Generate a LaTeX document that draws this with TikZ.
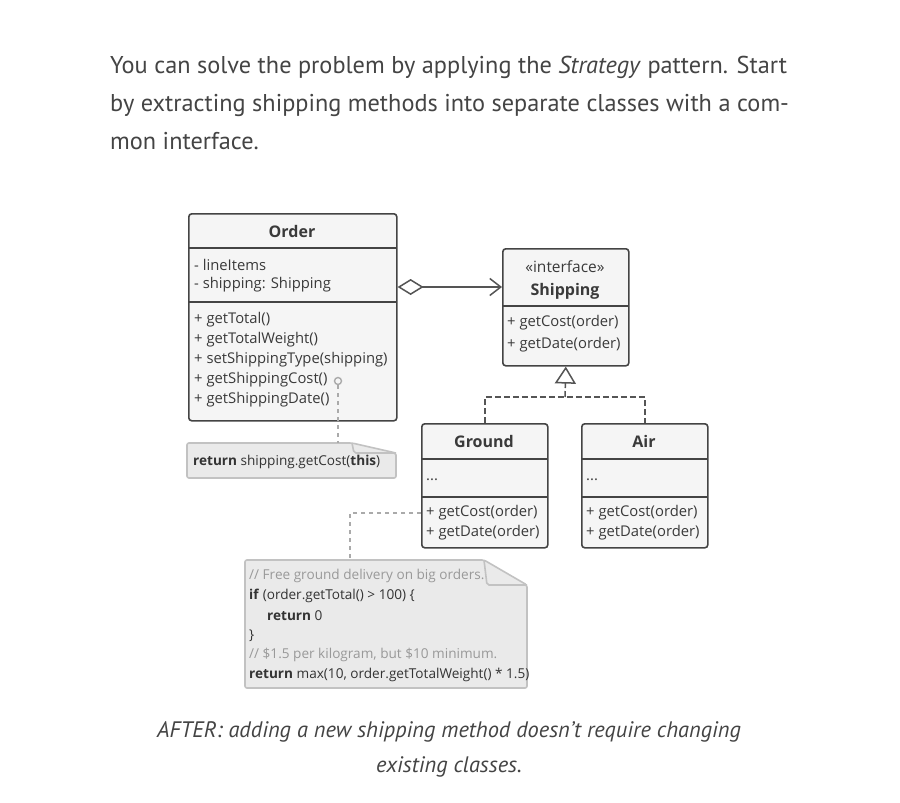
\documentclass[tikz,border=0pt]{standalone}
\usepackage{fontspec}
\setmainfont{PT Sans}
\newfontfamily\dfont{Open Sans}
\usetikzlibrary{arrows.meta}
\definecolor{ink}{HTML}{444444}
\definecolor{txt}{HTML}{3a3a3a}
\definecolor{boxline}{HTML}{444444}
\definecolor{boxfill}{HTML}{F5F5F5}
\definecolor{notefill}{HTML}{EAEAEA}
\definecolor{noteline}{HTML}{C2C2C2}
\definecolor{cmt}{HTML}{999999}
\definecolor{code}{HTML}{333333}
\definecolor{conn}{HTML}{555555}
\definecolor{pinc}{HTML}{AAAAAA}
\tikzset{
  classbox/.style={draw=boxline, line width=1.6pt, fill=boxfill, rounded corners=3pt, inner sep=0pt, anchor=north west},
  sepline/.style={draw=boxline, line width=1.6pt},
  ctitle/.style={text=txt, font=\dfont\bfseries\fontsize{16}{19}\selectfont, inner sep=0pt},
  cstereo/.style={text=txt, font=\dfont\fontsize{15.5}{18}\selectfont, inner sep=0pt},
  member/.style={text=txt, font=\dfont\fontsize{14.8}{17}\selectfont, inner sep=0pt, anchor=west},
  noteshape/.style={draw=noteline, line width=1.6pt, fill=notefill, rounded corners=2pt},
  foldline/.style={draw=noteline, line width=1.6pt, rounded corners=2pt},
  notetext/.style={text=code, font=\dfont\fontsize{13.6}{16}\selectfont, inner sep=0pt, anchor=west},
  para/.style={text=ink, font=\fontsize{24.3}{29}\selectfont, inner sep=0pt, anchor=base west},
  capt/.style={text=ink, font=\itshape\fontsize{22.4}{27}\selectfont, inner sep=0pt, anchor=base},
  agg/.style={draw=conn, line width=1.5pt, {Diamond[open,length=26pt,width=16pt,fill=white]}-{Straight Barb[length=11pt,width=17pt]}},
  realize/.style={draw=conn, line width=1.5pt, dash pattern=on 6pt off 3pt},
  realtip/.style={-{Triangle[open,length=17pt,width=21pt,fill=white]}},
  pinline/.style={draw=pinc, line width=1.6pt, dash pattern=on 4pt off 4pt},
}
\begin{document}
\begin{tikzpicture}[x=1pt,y=-1pt]
\useasboundingbox[fill=white] (0,0) rectangle (900,803);

% paragraph
\node[para] (p1) at (110,73) {You can solve the problem by applying the \textit{Strategy} pattern. Start};
\node[para] (p2) at (110,111) {by extracting shipping methods into separate classes with a com-};
\node[para] (p3) at (110,149) {mon interface.};

% Order class
\node[classbox, minimum width=208, minimum height=207] (order) at (188,213) {};
\draw[sepline] (188,248) -- (396,248);
\draw[sepline] (188,302) -- (396,302);
\node[ctitle] (ordert) at (292,231) {Order};
\node[member] (oa1) at (194,265) {- lineItems};
\node[member] (oa2) at (194,285) {- shipping: Shipping};
\node[member] (om1) at (194,320) {+ getTotal()};
\node[member] (om2) at (194,340) {+ getTotalWeight()};
\node[member] (om3) at (194,360) {+ setShippingType(shipping)};
\node[member] (om4) at (194,380) {+ getShippingCost()};
\node[member] (om5) at (194,400) {+ getShippingDate()};

% Shipping interface
\node[classbox, minimum width=126, minimum height=117] (ship) at (502,248) {};
\draw[sepline] (502,306) -- (628,306);
\node[cstereo] (shs) at (565,267) {«interface»};
\node[ctitle] (sht) at (565,291) {Shipping};
\node[member] (shm1) at (507,323) {+ getCost(order)};
\node[member] (shm2) at (507,345) {+ getDate(order)};

% Ground
\node[classbox, minimum width=126, minimum height=124] (ground) at (421,423) {};
\draw[sepline] (421,459) -- (547,459);
\node[ctitle] (grt) at (484,441) {Ground};
\node[member] (gra) at (426,480) {...};
\draw[sepline] (421,497) -- (547,497);
\node[member] (grm1) at (426,513) {+ getCost(order)};
\node[member] (grm2) at (426,533) {+ getDate(order)};

% Air
\node[classbox, minimum width=126, minimum height=124] (air) at (581,423) {};
\draw[sepline] (581,459) -- (707,459);
\node[ctitle] (airt) at (644,441) {Air};
\node[member] (aira) at (586,480) {...};
\draw[sepline] (581,497) -- (707,497);
\node[member] (airm1) at (586,513) {+ getCost(order)};
\node[member] (airm2) at (586,533) {+ getDate(order)};

% aggregation
\draw[agg] (order.east |- 0,287) -- (ship.west |- 0,287);

% realization
\coordinate (jn) at (565,397);
\draw[realize] (ground.north) |- (jn) -| (air.north);
\draw[realize, realtip] (jn) -- (ship.south);

% note 1
\draw[noteshape] (187,443) -- (352,443) -- (396,453) -- (396,478) -- (187,478) -- cycle;
\draw[foldline] (352,443) -- (354,453) -- (396,453);
\node[notetext] (n1) at (193,462) {\textbf{return} shipping.getCost(\textbf{this})};
\coordinate (n1top) at (338,443);
\node[circle, draw=pinc, line width=1.4pt, minimum size=7pt, inner sep=0pt] (pin) at (338,381) {};
\draw[pinline] (pin.south) -- (n1top);

% note 2
\draw[noteshape] (245,560) -- (484,560) -- (527,585) -- (527,688) -- (245,688) -- cycle;
\draw[foldline] (484,560) -- (487,585) -- (527,585);
\node[notetext, text=cmt] (c1) at (249,576) {// Free ground delivery on big orders.};
\node[notetext] (c2) at (249,596) {\textbf{if} (order.getTotal() > 100) \{};
\node[notetext] (c3) at (267,616) {\textbf{return} 0};
\node[notetext] (c4) at (249,636) {\}};
\node[notetext, text=cmt] (c5) at (249,655) {// \$1.5 per kilogram, but \$10 minimum.};
\node[notetext] (c6) at (249,675) {\textbf{return} max(10, order.getTotalWeight() * 1.5)};
\coordinate (n2top) at (350,560);
\draw[pinline] (ground.west |- grm1) -| (n2top);

% caption
\node[capt] (cap1) at (449,737) {AFTER: adding a new shipping method doesn’t require changing};
\node[capt] (cap2) at (449,772) {existing classes.};
\end{tikzpicture}
\end{document}
